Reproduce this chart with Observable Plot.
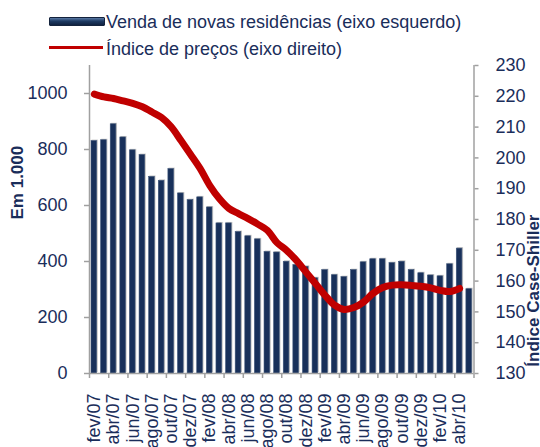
<!DOCTYPE html>
<html><head><meta charset="utf-8">
<script src="https://cdn.jsdelivr.net/npm/d3@7"></script>
<script src="https://cdn.jsdelivr.net/npm/@observablehq/plot@0.6"></script>
<style>
body{margin:0;background:#fff;font-family:"Liberation Sans",Arial,sans-serif;}
#legend{position:relative;height:50px;z-index:2;color:#1a2d5a;font-size:18px;}
.sw{position:absolute;left:49px;width:54px;}
.lt{position:absolute;left:106px;line-height:18px;white-space:nowrap;}
#chart{position:relative;z-index:1}
#chart svg{overflow:visible;background:none}
</style></head><body>
<div id="legend">
 <div class="sw" style="top:17px;height:7px;background:linear-gradient(#5a7aa5,#1d3a63 45%,#0f2140);border:1px solid #14233d;border-radius:1px"></div>
 <div class="lt" style="top:12.5px">Venda de novas residências (eixo esquerdo)</div>
 <div class="sw" style="top:45.5px;height:3px;background:#c00000"></div>
 <div class="lt" style="top:40px">Índice de preços (eixo direito)</div>
</div>
<div id="chart"></div>
<script>
const months = ["fev/07","mar/07","abr/07","mai/07","jun/07","jul/07","ago/07","set/07","out/07","nov/07","dez/07",
  "jan/08","fev/08","mar/08","abr/08","mai/08","jun/08","jul/08","ago/08","set/08","out/08","nov/08","dez/08",
  "jan/09","fev/09","mar/09","abr/09","mai/09","jun/09","jul/09","ago/09","set/09","out/09","nov/09","dez/09",
  "jan/10","fev/10","mar/10","abr/10","mai/10"];
const sales = [830,833,890,843,797,780,702,688,730,643,
  619,629,593,536,536,505,490,479,434,432,
  399,387,381,340,369,351,344,369,397,408,
  408,394,399,369,358,350,347,390,446,301];
const caseShiller = [220.7,219.8,219.3,218.5,217.7,216.6,214.9,213.1,210.1,205.7,
  201.2,196.6,191.1,186.8,183.6,181.9,180.3,178.5,176.5,172.5,
  170.0,166.8,163.0,159.2,155.4,152.2,150.8,151.4,153.2,156.0,
  157.9,158.7,158.8,158.6,158.3,157.8,157.0,156.6,157.6];
const leftTicks = [0,200,400,600,800,1000];
const rightTicks = [130,140,150,160,170,180,190,200,210,220,230];
const leftTitle = "Em 1.000";
const rightTitle = "Índice Case-Shiller";

const BASE = 130, S = 11; // right axis 130..230 maps onto left 0..1100
const bars = sales.map((v,i)=>({i, v}));
const line = caseShiller.map((v,i)=>({i, v}));
const boundaries = d3.range(0, months.length + 1, 2);
const labelPos = d3.range(0, months.length, 2).map(i => i + 0.5);
const txt = "#1a2d5a", axisGray = "#a0a0a0";

const chart = Plot.plot({
  width: 540, height: 397,
  marginTop: 15, marginBottom: 74, marginLeft: 89, marginRight: 66.5,
  style: {fontFamily: '"Liberation Sans", Arial, sans-serif', fontSize: "18px", color: txt, background: "none", overflow: "visible"},
  x: {type: "linear", domain: [0, months.length]},
  y: {domain: [0, 1100]},
  marks: [
    Plot.rectY(bars, {x1: d=>d.i, x2: d=>d.i+1, y: d=>d.v, insetLeft: 2.6, insetRight: 0.8, dy: -1, fill: "#c6c6c6"}),
    Plot.rectY(bars, {x1: d=>d.i, x2: d=>d.i+1, y: d=>d.v, insetLeft: 2, insetRight: 2, fill: "#18305a", stroke: "#3d5478", strokeWidth: 0.6}),
    Plot.ruleY([0], {stroke: axisGray, strokeWidth: 1.5}),
    Plot.ruleX([0, months.length], {stroke: axisGray, strokeWidth: 1.5}),
    Plot.line(line, {x: d=>d.i+0.5, y: d=>(d.v-BASE)*S, stroke: "#c00000", strokeWidth: 7, curve: "catmull-rom", strokeLinecap: "round", strokeLinejoin: "round"}),
    Plot.axisY({ticks: leftTicks, tickSize: 5, tickPadding: 17, stroke: axisGray, strokeWidth: 1.5, fill: txt, label: null, tickFormat: d => String(d)}),
    Plot.axisY({anchor: "right", ticks: rightTicks.map(v => (v-BASE)*S), tickSize: 4, tickPadding: 17.5, stroke: axisGray, strokeWidth: 1.5, fill: txt, label: null, tickFormat: d => String(Math.round(d/S + BASE))}),
    Plot.axisX({ticks: boundaries, tickSize: 5, stroke: axisGray, strokeWidth: 1.5, label: null, tickFormat: () => ""}),
    Plot.axisX({ticks: labelPos, tickSize: 0, tickPadding: 20, tickRotate: -90, fill: txt, label: null, tickFormat: d => months[Math.round(d - 0.5)]}),
    Plot.text([leftTitle], {text: d=>d, frameAnchor: "left", rotate: -90, dx: -71.5, fontWeight: "bold", fontSize: 17, fill: txt}),
    Plot.text([rightTitle], {text: d=>d, frameAnchor: "right", rotate: -90, dx: 59.5, dy: -5, fontWeight: "bold", fontSize: 17, fill: txt})
  ]
});
document.getElementById("chart").append(chart);
</script>
</body></html>
